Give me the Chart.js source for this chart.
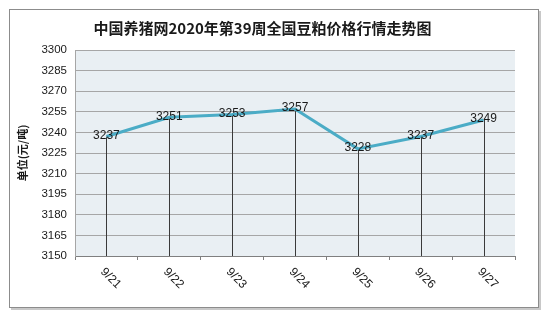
<!DOCTYPE html>
<html>
<head>
<meta charset="utf-8">
<script src="https://cdn.jsdelivr.net/npm/chart.js@4"></script>
<style>
  html, body { margin: 0; padding: 0; background: #fff; }
  #wrap { width: 550px; height: 319px; }
</style>
</head>
<body>
<div id="wrap"><canvas id="priceChart" width="550" height="319"></canvas></div>
<script>
// chart data
const titleText = '中国养猪网2020年第39周全国豆粕价格行情走势图';
const yTitle = '单位(元/吨)';
const dates = ['9/21', '9/22', '9/23', '9/24', '9/25', '9/26', '9/27'];
const prices = [3237, 3251, 3253, 3257, 3228, 3237, 3249];
const yMin = 3150, yMax = 3300, yStep = 15;

const numFont = 'Liberation Sans, Arial, sans-serif';
const cjkFont = '"Noto Sans CJK SC", sans-serif';

// frame, plot background, drop lines, value labels, rotated dates
const decor = {
  id: 'decor',
  beforeDraw(chart) {
    const c = chart.ctx, a = chart.chartArea;
    c.save();
    // frame with a little shadow
    c.fillStyle = '#c8c8c8';
    c.fillRect(11, 11, 530, 299);
    c.fillStyle = '#ffffff';
    c.fillRect(9, 9, 530, 299);
    c.strokeStyle = '#8c8c8c';
    c.lineWidth = 1;
    c.strokeRect(9.5, 9.5, 529, 298);
    // plot area
    c.fillStyle = '#e9eff3';
    c.fillRect(a.left, a.top, a.right - a.left, a.bottom - a.top);
    c.restore();
  },
  beforeDatasetsDraw(chart) {
    const c = chart.ctx, a = chart.chartArea;
    const pts = chart.getDatasetMeta(0).data;
    c.save();
    c.strokeStyle = '#3a3a3a';
    c.lineWidth = 1;
    pts.forEach(p => {
      const x = Math.round(p.x) + 0.5;
      c.beginPath();
      c.moveTo(x, p.y);
      c.lineTo(x, a.bottom);
      c.stroke();
    });
    c.restore();
  },
  afterDatasetsDraw(chart) {
    const c = chart.ctx, a = chart.chartArea;
    const pts = chart.getDatasetMeta(0).data;
    const xs = chart.scales.x;
    c.save();
    c.fillStyle = '#1a1a1a';
    c.font = '12px ' + numFont;
    c.textAlign = 'center';
    c.textBaseline = 'middle';
    pts.forEach((p, i) => c.fillText(String(prices[i]), p.x, p.y - 1));
    // rotated category labels
    c.textAlign = 'left';
    dates.forEach((d, i) => {
      const x = xs.getPixelForValue(i);
      c.save();
      c.translate(x - 4, a.bottom + 14);
      c.rotate(Math.PI / 4);
      c.fillText(d, 0, 0);
      c.restore();
    });
    c.restore();
  }
};

const ctx = document.getElementById('priceChart').getContext('2d');
new Chart(ctx, {
  type: 'line',
  data: {
    labels: dates,
    datasets: [{
      data: prices,
      borderColor: '#4bacc6',
      borderWidth: 3,
      pointRadius: 0,
      tension: 0,
      fill: false
    }]
  },
  options: {
    responsive: false,
    animation: false,
    layout: { padding: { left: 10, right: 35, top: 10, bottom: 12 } },
    plugins: {
      legend: { display: false },
      tooltip: { enabled: false },
      title: {
        display: true,
        text: titleText,
        color: '#1a1a1a',
        font: { family: cjkFont, size: 15, weight: 'bold' },
        padding: { top: 9, bottom: 13 }
      }
    },
    scales: {
      x: {
        offset: true,
        afterFit(s) { s.height = 51; },
        ticks: { display: false },
        grid: {
          offset: true,
          drawOnChartArea: false,
          drawTicks: true,
          tickLength: 4,
          color: '#7f7f7f'
        },
        border: { color: '#7f7f7f', width: 1 }
      },
      y: {
        min: yMin,
        max: yMax,
        afterFit(s) { s.width = 65; },
        ticks: {
          stepSize: yStep,
          color: '#1a1a1a',
          padding: 8,
          font: { family: numFont, size: 11.5 },
          callback: v => String(v)
        },
        grid: { color: '#a6a6a6', drawTicks: false },
        border: { color: '#a6a6a6' },
        title: {
          display: true,
          text: yTitle,
          color: '#1a1a1a',
          font: { family: cjkFont, size: 11, weight: 'bold' },
          padding: { top: 6, bottom: 0 }
        }
      }
    }
  },
  plugins: [decor]
});
</script>
</body>
</html>
